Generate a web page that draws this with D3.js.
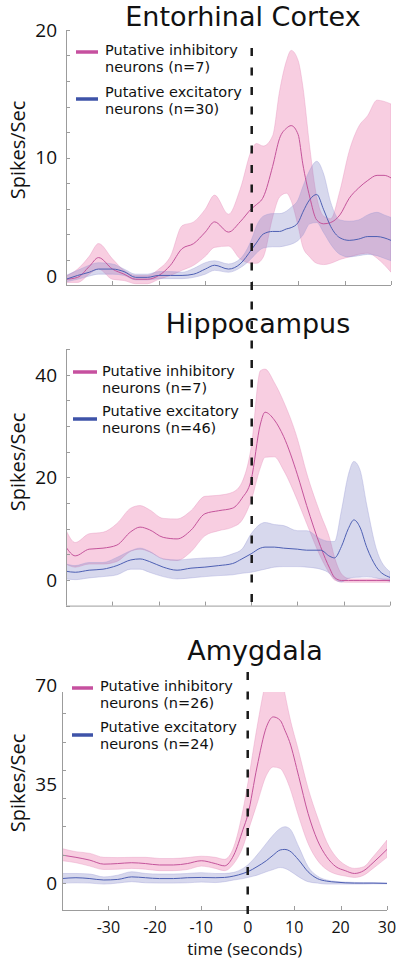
<!DOCTYPE html>
<html><head><meta charset="utf-8">
<script src="https://cdn.jsdelivr.net/npm/d3@7"></script>
<style>
body{margin:0;background:#fff}
svg{display:block}
text{font-family:"Open Sans","Noto Sans",sans-serif;fill:#111}
text.title, text.leg{font-family:"DejaVu Sans","Open Sans",sans-serif}
</style>
</head><body>
<svg id="chart" width="400" height="967"></svg>
<script>
// ---------- DATA ----------
const xTickLabels = [-30,-20,-10,0,10,20,30];

// Entorhinal Cortex
const ecTime = [-40,-37.5,-35,-33,-30,-27.5,-25,-22.5,-20,-17.5,-15,-12.5,-10,-8,-5,-2.5,0,1,2.5,4.5,6,7.5,8.5,10,11,12.5,14,15.5,17,19,21,23,25,27,28.5,30];
const ecInhMean  = [0.45,0.6,1.45,2.15,1.25,0.85,0.45,0.45,0.75,1.55,2.85,3.25,4.15,4.95,4.15,4.95,6.0,6.3,6.9,9.3,11.5,12.3,12.5,11.8,9.5,6.9,5.1,4.8,4.9,5.5,6.8,7.6,8.2,8.6,8.6,8.4];
const ecInhUpper = [0.7,1.25,2.25,3.25,2.05,1.15,0.75,0.75,1.25,2.25,4.65,4.95,5.95,7.05,5.55,7.5,10.6,11.1,10.9,11.7,15.2,17.6,18.4,17.6,15.6,10.8,6.9,5.4,5.2,7.4,10.5,12.4,13.3,14.5,14.4,14.2];
const ecInhLower = [0.2,0.2,0.85,1.25,0.45,0.35,0.1,0.1,0.45,0.75,1.15,1.55,2.25,2.95,3.05,2.05,1.7,1.7,2.2,5.3,6.9,7.2,6.6,4.6,3.0,2.2,1.7,1.6,1.7,2.0,2.2,2.4,2.5,2.1,1.6,1.0];
const ecExcMean  = [0.45,0.75,1.0,1.25,1.25,1.05,0.6,0.6,0.75,0.75,0.75,0.85,1.25,1.55,1.25,1.65,2.8,3.3,4.0,4.2,4.2,4.4,4.5,4.9,5.7,6.7,7.1,5.9,4.6,3.7,3.5,3.6,3.8,3.8,3.7,3.5];
const ecExcUpper = [0.75,1.15,1.55,1.75,1.65,1.25,0.85,0.85,1.05,1.05,1.0,1.3,1.75,1.9,1.65,2.05,3.6,4.6,5.4,5.6,5.6,5.8,6.1,6.7,7.7,9.0,9.7,8.7,6.5,5.1,5.0,5.1,5.5,5.7,5.5,5.3];
const ecExcLower = [0.25,0.45,0.7,0.85,0.85,0.75,0.4,0.4,0.5,0.5,0.5,0.6,0.85,1.15,1.0,1.35,2.1,2.5,2.9,3.0,3.0,3.1,3.2,3.5,3.9,4.8,4.9,4.1,3.2,2.4,2.2,2.3,2.4,2.3,2.1,1.9];
const ecYTickLabels = [0,10,20];
const ecLegend = [["Putative inhibitory","neurons (n=7)"],["Putative excitatory","neurons (n=30)"]];

// Hippocampus
const hcTime = [-40,-38,-35,-32,-29,-26,-24,-22,-19,-16,-13,-10,-7,-4,-2,0,2,3,5,7,10,12,15,17,18,19.5,21,22.2,23.5,25,27,30];
const hcInhMean  = [6.4,4.7,6.0,6.2,6.8,9.4,10.3,9.8,8.3,8.0,9.7,12.9,13.5,14.0,15.9,19.5,30.4,32.7,31.2,28.0,20.5,14.5,6.5,2.2,0.5,-0.1,-0.1,-0.1,-0.1,-0.1,-0.1,-0.1];
const hcInhUpper = [9.7,7.3,9.0,9.3,11.0,14.0,14.5,13.7,12.0,11.9,13.5,16.3,16.5,17.1,19.0,25.8,40.8,41.1,38.5,34.8,27.5,20.8,12.8,8.0,4.5,1.2,0.3,0.2,0.2,0.2,0.2,0.2];
const hcInhLower = [3.1,2.5,3.1,3.1,3.6,5.6,6.0,5.5,4.1,3.8,5.5,8.6,9.6,10.3,11.6,15.5,21.9,23.9,24.0,21.4,15.5,11.0,4.5,1.2,0,-0.4,-0.45,-0.45,-0.45,-0.45,-0.45,-0.45];
const hcExcMean  = [1.7,1.5,1.9,2.1,2.8,3.9,4.1,3.6,2.5,1.9,2.3,2.5,2.8,3.2,4.1,5.1,6.2,6.4,6.4,6.2,6.0,5.8,5.8,4.6,4.3,6.5,10.0,11.7,10.3,6.3,2.6,0.5];
const hcExcUpper = [3.1,2.8,3.4,3.4,4.4,5.7,6.2,5.6,4.1,3.9,4.1,4.3,4.4,5.1,6.0,9.0,10.9,11.2,10.8,10.6,9.6,9.6,8.0,7.5,7.5,13.5,20.5,23.1,21.5,14.5,6.2,1.6];
const hcExcLower = [0.2,0.06,0.4,0.65,1.0,2.1,2.1,1.5,0.65,0.2,0.4,0.65,0.85,1.0,1.3,1.5,1.9,2.1,2.5,2.6,2.6,2.5,2.1,1.2,0.2,-0.4,0.3,0.5,0.55,0.6,0.4,-0.3];
const hcYTickLabels = [0,20,40];
const hcLegend = [["Putative inhibitory","neurons (n=7)"],["Putative excitatory","neurons (n=46)"]];

// Amygdala
const amTime = [-40,-37,-34,-31,-28,-25,-22,-19,-16,-13,-10,-7,-5,-3,-1,0,2,4,5.5,7,8,9,11,13,15,17,19,21,23,25,27,30];
const amInhMean  = [9.9,9.1,8.1,6.7,6.9,7.2,6.9,6.4,6.4,6.9,7.9,6.9,6.1,9.9,19,24,41,55,58.7,57.5,54,50,37.6,24.6,15.2,9.3,5.8,4.4,3.4,4.4,7.2,11.9];
const amInhUpper = [12.2,11.1,10.5,9.1,9.0,9.1,9.1,8.7,8.7,9.0,9.5,9.1,8.4,12.8,26,35,55,72,80,76,67,59,46.4,33.5,23.4,14.6,9.3,6.4,5.2,5.8,9.3,15.2];
const amInhLower = [7.9,7.2,6.0,4.8,4.9,5.2,4.9,4.4,4.4,4.8,6.0,5.2,4.4,6.9,13,18,28,38,41,40.5,38,34,23.4,14,8.1,4.8,3.2,2.5,2.0,2.8,5.2,9.1];
const amExcMean  = [1.6,1.9,1.6,1.1,1.3,2.2,1.9,1.6,1.6,1.9,2.0,1.9,2.0,2.5,3.4,4.0,5.8,7.9,9.9,11.7,11.9,11.4,8.1,4.0,1.6,0.7,0.35,0.1,0,0,0,-0.1];
const amExcUpper = [3.4,3.4,3.2,2.2,2.8,4.0,3.4,3.2,3.2,3.4,3.7,3.4,3.4,3.8,5.2,6.4,9.9,14,17,19.3,19.9,19.3,12.8,5.8,2.5,1.1,0.6,0.35,0.25,0.1,0.1,0];
const amExcLower = [0,0.1,0,-0.35,0,0.5,0.1,0,0,0.1,0.35,0.2,0.5,1.1,1.6,2.0,2.8,4.0,4.8,5.5,5.2,4.4,2.2,0.5,0,-0.35,-0.35,-0.35,-0.35,-0.35,-0.25,-0.25];
const amYTickLabels = [0,35,70];
const amLegend = [["Putative inhibitory","neurons (n=26)"],["Putative excitatory","neurons (n=24)"]];

// ---------- STYLE / LAYOUT ----------
const PINK_LINE = '#c4549b', BLUE_LINE = '#4d5fb3';
const PINK_FILL = '#e8629f', BLUE_FILL = '#7c7fc4';
const PINK_LEG = '#c6509f', BLUE_LEG = '#3e53a8';
const AXIS = '#9c9c9c';

const panels = [
  {title:'Entorhinal Cortex', tX:243, tY:26, time:ecTime,
   inh:[ecInhLower,ecInhMean,ecInhUpper], exc:[ecExcLower,ecExcMean,ecExcUpper],
   xR:[66,391], yD:[0,20], yR:[285,30], minor:d3.range(0,20.01,2), labels:ecYTickLabels, zeroShift:-9,
   ylabY:150, legend:ecLegend, leg:{lx:[76,98], tx:105, base:[55,97], gap:17, pY:52, bY:99}, xLabels:false},
  {title:'Hippocampus', tX:258, tY:333, time:hcTime,
   inh:[hcInhLower,hcInhMean,hcInhUpper], exc:[hcExcLower,hcExcMean,hcExcUpper],
   xR:[66,390], yD:[-5,45], yR:[605.6,349.1], minor:d3.range(-5,45.01,5), labels:hcYTickLabels, zeroShift:0,
   ylabY:462, legend:hcLegend, leg:{lx:[73,97], tx:102, base:[376,416], gap:17, pY:372, bY:419}, xLabels:false},
  {title:'Amygdala', tX:255, tY:660, time:amTime,
   inh:[amInhLower,amInhMean,amInhUpper], exc:[amExcLower,amExcMean,amExcUpper],
   xR:[62,387], yD:[-9.5,67.5], yR:[910,692], minor:d3.range(0,60.01,10), labels:amYTickLabels, zeroShift:0,
   ylabY:783, legend:amLegend, leg:{lx:[72,93], tx:100, base:[691,732], gap:17, pY:688, bY:735}, xLabels:true}
];

const svg = d3.select('#chart');

panels.forEach((p, i) => {
  const x = d3.scaleLinear().domain([-40, 30]).range(p.xR);
  const y = d3.scaleLinear().domain(p.yD).range(p.yR);
  p.x = x; p.y = y;
  const g = svg.append('g');

  const clipId = 'clip' + i;
  svg.append('clipPath').attr('id', clipId).append('rect')
    .attr('x', p.xR[0]).attr('y', p.yR[1])
    .attr('width', p.xR[1] - p.xR[0]).attr('height', p.yR[0] - p.yR[1]);

  const plot = g.append('g').attr('clip-path', `url(#${clipId})`);
  const mk = (arr) => p.time.map((t, k) => ({t, lo: arr[0][k], m: arr[1][k], hi: arr[2][k]}));
  const inh = mk(p.inh), exc = mk(p.exc);
  const curve = d3.curveMonotoneX;
  const area = d3.area().x(d => x(d.t)).y0(d => y(d.lo)).y1(d => y(d.hi)).curve(curve);
  const lineM = d3.line().x(d => x(d.t)).y(d => y(d.m)).curve(curve);

  plot.append('path').datum(inh).attr('d', area)
    .attr('fill', PINK_FILL).attr('fill-opacity', 0.31)
    .attr('stroke', '#e48cb8').attr('stroke-opacity', 0.6).attr('stroke-width', 0.6);
  plot.append('path').datum(exc).attr('d', area)
    .attr('fill', BLUE_FILL).attr('fill-opacity', 0.3)
    .attr('stroke', '#9a9bd4').attr('stroke-opacity', 0.6).attr('stroke-width', 0.6);
  plot.append('path').datum(inh).attr('d', lineM)
    .attr('fill', 'none').attr('stroke', PINK_LINE).attr('stroke-width', 1);
  plot.append('path').datum(exc).attr('d', lineM)
    .attr('fill', 'none').attr('stroke', BLUE_LINE).attr('stroke-width', 1);

  // axes
  const x0 = p.xR[0], yb = p.yR[0];
  g.append('line').attr('x1', x0 + 0.5).attr('x2', x0 + 0.5).attr('y1', p.yR[1]).attr('y2', yb)
    .attr('stroke', AXIS).attr('stroke-width', 1);
  g.append('line').attr('x1', x0).attr('x2', p.xR[1]).attr('y1', yb + 0.5).attr('y2', yb + 0.5)
    .attr('stroke', AXIS).attr('stroke-width', 1);
  g.selectAll('.yt').data(p.minor).enter().append('line')
    .attr('x1', x0).attr('x2', x0 + 4)
    .attr('y1', d => Math.round(y(d)) + 0.5).attr('y2', d => Math.round(y(d)) + 0.5)
    .attr('stroke', AXIS).attr('stroke-width', 1);
  g.selectAll('.xt').data(xTickLabels).enter().append('line')
    .attr('x1', d => Math.round(x(d)) + 0.5).attr('x2', d => Math.round(x(d)) + 0.5)
    .attr('y1', yb).attr('y2', yb - 4)
    .attr('stroke', AXIS).attr('stroke-width', 1);

  g.selectAll('.yl').data(p.labels).enter().append('text')
    .attr('x', 57).attr('y', d => y(d) + (d === 0 ? p.zeroShift : 0))
    .attr('dy', '0.36em').attr('text-anchor', 'end')
    .style('font-size', '19px').text(d => d);

  if (p.xLabels) {
    g.selectAll('.xl').data(xTickLabels).enter().append('text')
      .attr('x', d => x(d)).attr('y', yb + 23).attr('text-anchor', 'middle')
      .style('font-size', '16px').text(d => d);
    g.append('text').attr('x', x(0) - 3).attr('y', yb + 45).attr('text-anchor', 'middle')
      .style('font-size', '17px').text('time (seconds)');
  }

  g.append('text').attr('class', 'title').attr('x', p.tX).attr('y', p.tY).attr('text-anchor', 'middle')
    .style('font-size', '27px').text(p.title);

  g.append('text').attr('transform', `translate(25,${p.ylabY}) rotate(-90)`)
    .attr('text-anchor', 'middle').style('font-size', '20px').text('Spikes/Sec');

  const L = p.leg;
  g.append('line').attr('x1', L.lx[0]).attr('x2', L.lx[1]).attr('y1', L.pY).attr('y2', L.pY)
    .attr('stroke', PINK_LEG).attr('stroke-width', 3.5);
  g.append('line').attr('x1', L.lx[0]).attr('x2', L.lx[1]).attr('y1', L.bY).attr('y2', L.bY)
    .attr('stroke', BLUE_LEG).attr('stroke-width', 3.5);
  p.legend.forEach((lines, k) => {
    const t = g.append('text').attr('class', 'leg').attr('x', L.tx).attr('y', L.base[k]).style('font-size', '14.5px');
    lines.forEach((s, j) => {
      t.append('tspan').attr('x', L.tx).attr('y', L.base[k] + j * L.gap).text(s);
    });
  });
});

// dashed event lines at t = 0
const p1 = panels[0], p3 = panels[2];
svg.append('line')
  .attr('x1', p1.x(0)).attr('x2', p1.x(0)).attr('y1', 48).attr('y2', 613)
  .attr('stroke', '#1a1a1a').attr('stroke-width', 2.5).attr('stroke-dasharray', '8,11.5');
svg.append('line')
  .attr('x1', p3.x(0)).attr('x2', p3.x(0)).attr('y1', 672).attr('y2', 915)
  .attr('stroke', '#1a1a1a').attr('stroke-width', 2.5).attr('stroke-dasharray', '8,11.5');
</script>
</body></html>
